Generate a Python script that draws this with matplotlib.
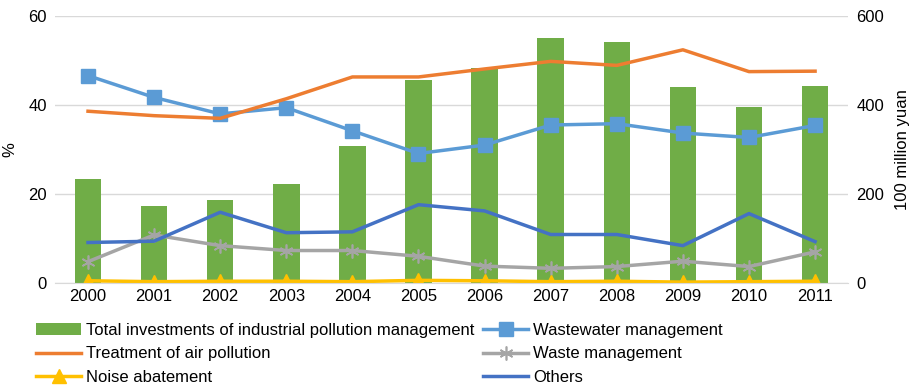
import matplotlib.pyplot as plt
import numpy as np

years = ['2000', '2001', '2002', '2003', '2004', '2005',
         '2006', '2007', '2008', '2009', '2010', '2011']

# total investment, 100 million yuan (right axis)
total_invest = [234, 173, 187, 222, 307, 457, 483, 551, 541, 441, 396, 443]

# shares of total investment, % (left axis)
wastewater = [46.6, 41.7, 38.0, 39.4, 34.2, 29.1, 31.0, 35.5, 35.8, 33.7, 32.7, 35.4]
air = [38.6, 37.6, 37.0, 41.4, 46.3, 46.3, 48.1, 49.8, 48.9, 52.4, 47.5, 47.6]
waste = [4.8, 10.8, 8.4, 7.3, 7.3, 6.0, 3.8, 3.3, 3.7, 4.9, 3.7, 7.0]
noise = [0.5, 0.3, 0.4, 0.4, 0.3, 0.6, 0.5, 0.3, 0.4, 0.2, 0.3, 0.4]
others = [9.1, 9.4, 15.9, 11.3, 11.5, 17.6, 16.2, 10.9, 10.9, 8.4, 15.6, 9.3]

plt.rcParams['font.family'] = ['Liberation Sans', 'DejaVu Sans']

fig = plt.figure(figsize=(9.1, 3.87), dpi=100)
ax = fig.add_axes([0.0604, 0.2687, 0.8716, 0.69])
ax_bar = ax.twinx()

x = np.arange(len(years))

bars = ax_bar.bar(x, total_invest, width=0.4, color='#70ad47', zorder=2)
ax_bar.set_ylim(0, 600)
ax_bar.set_yticks([0, 200, 400, 600])
ax_bar.grid(axis='y', color='#d9d9d9', linewidth=1, zorder=0)
ax_bar.set_axisbelow(True)
ax_bar.set_ylabel('100 million yuan', fontsize=12, labelpad=8)

# lines drawn on the left axis, put in front of the bars
ax.set_zorder(ax_bar.get_zorder() + 1)
ax.patch.set_visible(False)

lw = 2.5
l_ww, = ax.plot(x, wastewater, color='#5b9bd5', lw=lw, marker='s', ms=9.5)
l_air, = ax.plot(x, air, color='#ed7d31', lw=lw)
l_waste, = ax.plot(x, waste, color='#a5a5a5', lw=lw, marker=(6, 2, 0), ms=10,
                   mew=1.2, mec='#a5a5a5')
l_noise, = ax.plot(x, noise, color='#ffc000', lw=lw, marker='^', ms=9.5)
l_oth, = ax.plot(x, others, color='#4472c4', lw=lw)

ax.set_ylim(0, 60)
ax.set_yticks([0, 20, 40, 60])
ax.set_xlim(-0.5, len(years) - 0.5)
ax.set_xticks(x)
ax.set_xticklabels(years)
ax.set_ylabel('%', fontsize=12, labelpad=8)

for a in (ax, ax_bar):
    for s in a.spines.values():
        s.set_visible(False)
    a.tick_params(length=0, labelsize=12, colors='#000000')
ax.tick_params(axis='y', pad=6)
ax_bar.tick_params(axis='y', pad=6)
ax.tick_params(axis='x', pad=4)
ax.spines['bottom'].set_visible(True)
ax.spines['bottom'].set_color('#d9d9d9')

# legend filled column by column
handles = [bars, l_air, l_noise, l_ww, l_waste, l_oth]
labels = ['Total investments of industrial pollution management',
          'Treatment of air pollution', 'Noise abatement',
          'Wastewater management', 'Waste management', 'Others']
fig.legend(handles, labels, loc='upper left', bbox_to_anchor=(0.040, 0.165),
           ncol=2, frameon=False, fontsize=12, handlelength=2.7,
           handletextpad=0.3, columnspacing=0.5, labelspacing=0.5,
           borderpad=0, borderaxespad=0)

fig.savefig('out.png', dpi=100)
